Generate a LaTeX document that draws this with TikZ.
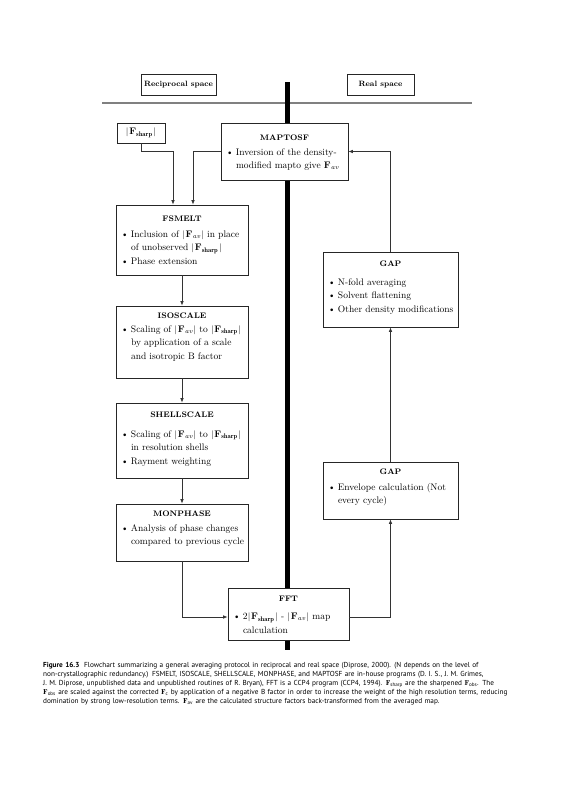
\documentclass[tikz,border=0pt]{standalone}
\usepackage{fontspec}
\newfontfamily\capfont{PT Sans}
\usetikzlibrary{arrows.meta}
\newcommand{\Fa}{\textbf{F}$_{\mathit{av}}$}
\newcommand{\Fs}{\textbf{F}$_{\mathbf{sharp}}$}
\newcommand{\bars}[1]{$|$\kern0.8pt#1\kern0.8pt$|$}
\newcommand{\itm}[1]{\par\noindent\hangindent=15pt\hangafter=1\makebox[15pt][l]{\hspace{5pt}\textbullet}{\let\\\newline #1}\par}
\newcommand{\fbody}[6]{%
\begin{minipage}[c][#2pt][t]{#1pt}\raggedright\fontsize{9.5}{13.5}\selectfont
\vspace*{#3pt}{\centering\fontsize{8}{10}\selectfont\bfseries #4\par}\vspace{#5pt}#6\end{minipage}}
\newcommand{\cF}{$\mathbf{F}$}
\begin{document}
\begin{tikzpicture}[x=1pt,y=-1pt,
  box/.style={draw=black!85, line width=0.8pt, fill=white, inner sep=0pt},
  hdr/.style={draw=black!85, line width=0.8pt, fill=white, inner sep=0pt, font=\fontsize{7.7}{9}\selectfont\bfseries},
  conn/.style={draw=black!80, line width=0.7pt, -{Latex[length=4.5pt,width=3.6pt]}},
  barline/.style={line width=5pt, black},
  rule/.style={line width=1.6pt, black!50}]
\useasboundingbox (0,0) rectangle (572,800);
% separators
\coordinate (barTop) at (287.5,82);
\coordinate (barBot) at (287.5,650);
\coordinate (ruleL) at (102,103);
\coordinate (ruleR) at (472,103);
\draw[rule] (ruleL) -- (ruleR);
\draw[barline] (barTop) -- (barBot);
% headers
\node[hdr, minimum width=75pt, minimum height=21pt] (recip) at (178.5,84.5) {Reciprocal space};
\node[hdr, minimum width=67pt, minimum height=21pt] (real) at (380.5,84.5) {Real space};
% boxes
\node[box, minimum width=48pt, minimum height=20pt, font=\fontsize{9.5}{11}\selectfont] (fsharp) at (141,133) {\bars{\Fs}};
\node[box] (maptosf) at (284.5,151.5) {\fbody{127}{57}{11.5}{MAPTOSF}{1.5}{\itm{Inversion of the density-\\modified mapto give \Fa}}};
\node[box] (fsmelt) at (182,240) {\fbody{132}{70}{10.5}{FSMELT}{2.5}{\itm{Inclusion of \bars{\Fa} in place\\of unobserved \bars{\Fs}}\itm{Phase extension}}};
\node[box] (isoscale) at (182,342) {\fbody{132}{72}{6.5}{ISOSCALE}{0.5}{\itm{Scaling of \bars{\Fa} to \bars{\Fs}\\by application of a scale\\and isotropic B factor}}};
\node[box] (shellscale) at (182,440.5) {\fbody{132}{75}{8.5}{SHELLSCALE}{6.5}{\itm{Scaling of \bars{\Fa} to \bars{\Fs}\\in resolution shells}\itm{Rayment weighting}}};
\node[box] (monphase) at (182,532.5) {\fbody{132}{57}{6.5}{MONPHASE}{1.5}{\itm{Analysis of phase changes\\compared to previous cycle}}};
\node[box] (fft) at (288.5,614) {\fbody{121}{52}{8.5}{FFT}{4.5}{\itm{2\bars{\Fs} - \bars{\Fa} map\\calculation}}};
\node[box] (gap1) at (390.5,289.5) {\fbody{135}{75}{8.5}{GAP}{5.5}{\itm{N-fold averaging}\itm{Solvent flattening}\itm{Other density modifications}}};
\node[box] (gap2) at (390.5,490.5) {\fbody{135}{57}{6.5}{GAP}{2.5}{\itm{Envelope calculation (Not\\every cycle)}}};
% connectors
\coordinate (fa) at ([xshift=-9pt]fsmelt.north);
\coordinate (fb) at ([xshift=11pt]fsmelt.north);
\draw[conn] (fsharp.south) |- (fa |- maptosf.west) -- (fa);
\draw[conn] (maptosf.west) -| (fb);
\draw[conn] (fsmelt) -- (isoscale);
\draw[conn] (isoscale) -- (shellscale);
\draw[conn] (shellscale) -- (monphase);
\draw[conn] (monphase.south) |- ([yshift=-3pt]fft.west);
\draw[conn] ([yshift=-3pt]fft.east) -| (gap2.south);
\draw[conn] (gap2) -- (gap1);
\draw[conn] (gap1.north) |- (maptosf.east);
% caption
\node[anchor=north west, inner sep=0pt, text width=520pt, align=left, font=\capfont\fontsize{7.25}{9}\selectfont] (cap) at (43,662) {\textbf{Figure 16.3}\ \ Flowchart summarizing a general averaging protocol in reciprocal and real space (Diprose, 2000). (N depends on the level of\\
non-crystallographic redundancy.) FSMELT, ISOSCALE, SHELLSCALE, MONPHASE, and MAPTOSF are in-house programs (D. I. S., J. M. Grimes,\\
J. M. Diprose, unpublished data and unpublished routines of R. Bryan), FFT is a CCP4 program (CCP4, 1994). \cF\textsubscript{sharp} are the sharpened \cF\textsubscript{obs}. The\\
\cF\textsubscript{obs} are scaled against the corrected \cF\textsubscript{c} by application of a negative B factor in order to increase the weight of the high resolution terms, reducing\\
domination by strong low-resolution terms. \cF\textsubscript{av} are the calculated structure factors back-transformed from the averaged map.};
\end{tikzpicture}
\end{document}
